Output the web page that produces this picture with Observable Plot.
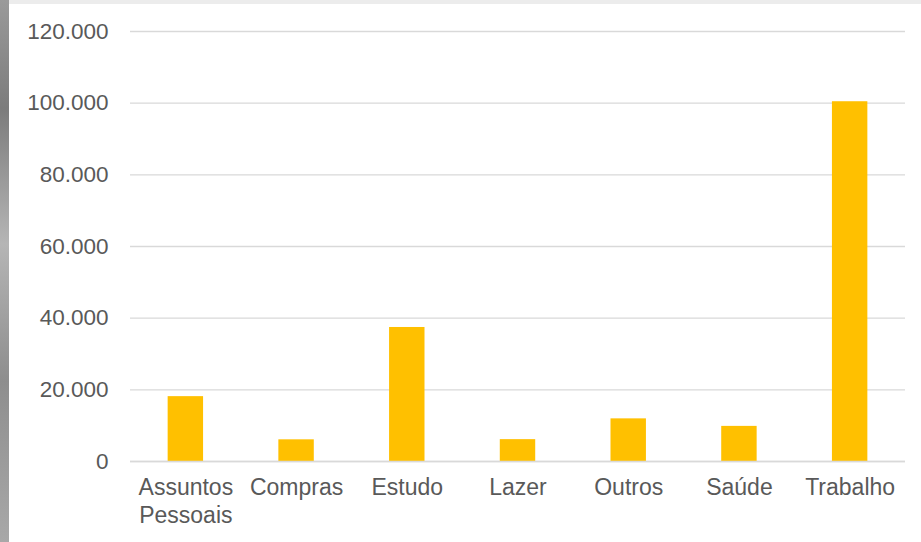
<!DOCTYPE html>
<html>
<head>
<meta charset="utf-8">
<script src="https://cdn.jsdelivr.net/npm/d3@7"></script>
<script src="https://cdn.jsdelivr.net/npm/@observablehq/plot@0.6"></script>
<style>
  html, body { margin: 0; padding: 0; }
  body { width: 921px; height: 542px; background: #ececec; position: relative; overflow: hidden; font-family: "Liberation Sans", Arial, sans-serif; }
  #edge { position: absolute; left: 0; top: 0; width: 9px; height: 542px;
    background: linear-gradient(180deg, #9a9a9a 0%, #7c7c7c 20%, #b5b5b5 45%, #8e8e8e 70%, #a8a8a8 100%); }
  #panel { position: absolute; left: 9px; top: 4px; width: 912px; height: 538px; background: #ffffff; }
</style>
</head>
<body>
<div id="edge"></div>
<div id="panel"></div>
<script>
const categories = ["Assuntos Pessoais", "Compras", "Estudo", "Lazer", "Outros", "Saúde", "Trabalho"];
const values = [18100, 6050, 37400, 6100, 11900, 9800, 100400];
const yTicks = [0, 20000, 40000, 60000, 80000, 100000, 120000];
const xLabels = ["Assuntos\nPessoais", "Compras", "Estudo", "Lazer", "Outros", "Saúde", "Trabalho"];

const data = categories.map((c, i) => ({category: c, value: values[i]}));
const fmt = d3.formatLocale({decimal: ",", thousands: ".", grouping: [3], currency: ["R$", ""]}).format(",d");
const labelOf = new Map(categories.map((c, i) => [c, xLabels[i]]));

const chart = Plot.plot({
  width: 912,
  height: 538,
  marginLeft: 121,
  marginRight: 16,
  marginTop: 27,
  marginBottom: 81,
  style: {background: "transparent", fontFamily: "'Liberation Sans', Arial, sans-serif", color: "#595959"},
  x: {domain: categories, paddingInner: 0.68, paddingOuter: 0.34, align: 0.5, round: false},
  y: {domain: [0, 120000], ticks: yTicks},
  marks: [
    Plot.ruleY(yTicks, {stroke: "#d9d9d9", strokeWidth: 1.3}),
    Plot.barY(data, {x: "category", y: "value", fill: "#FFC000"}),
    Plot.ruleY([0], {stroke: "#d9d9d9", strokeWidth: 1.6}),
    Plot.axisY({ticks: yTicks, tickSize: 0, tickPadding: 22, tickFormat: fmt, fontSize: 22.5, fill: "#595959", label: null}),
    Plot.axisX({tickSize: 0, tickPadding: 14, tickFormat: d => labelOf.get(d), fontSize: 23, lineHeight: 1.22, fill: "#595959", label: null})
  ]
});
chart.style.position = "absolute";
chart.style.left = "9px";
chart.style.top = "4px";
document.body.appendChild(chart);
</script>
</body>
</html>
